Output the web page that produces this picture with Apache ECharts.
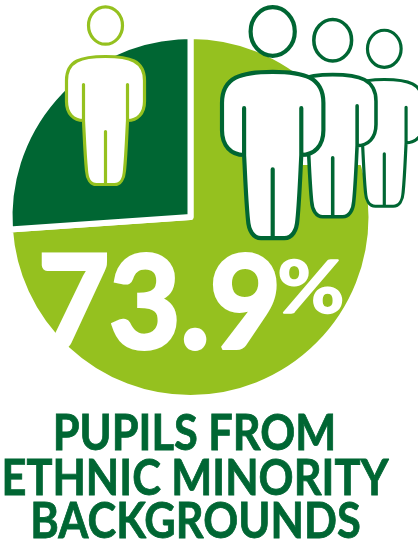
<!DOCTYPE html>
<html>
<head>
<meta charset="utf-8">
<style>html,body{margin:0;padding:0;background:#fff}#c{width:418px;height:544px}</style>
<script src="https://cdn.jsdelivr.net/npm/echarts@6/dist/echarts.min.js"></script>
</head>
<body>
<div id="c"></div>
<script>
const categories = ['Pupils from ethnic minority backgrounds', 'Other pupils'];
const values = [73.9, 26.1];
const titleLines = ['PUPILS FROM', 'ETHNIC MINORITY', 'BACKGROUNDS'];
const LIGHT = '#95C11F', DARK = '#006633';
const FONT = 'Lato';

const PERSON = 'M-17 20a17 18.7 0 1 0 34 0a17 18.7 0 1 0 -34 0Z' +
  'M0 51C24 51 39 55 39 75L39 96C39 108 32 115 22 115L22 115C21 135 20.5 150 19 165C18.5 173 15 179 9 179L-9 179C-15 179 -18.5 173 -19 165C-20.5 150 -21 135 -22 115C-32 115 -39 108 -39 96L-39 75C-39 55 -24 51 0 51Z' +
  'M-22 79L-22 115M22 79L22 115M0 126L0 179';
echarts.graphic.registerShape('person', echarts.graphic.extendPath(PERSON, {}));

function person(cx, top, s, color, z) {
  return {
    type: 'person', z, silent: true, x: cx, y: top, scaleX: s, scaleY: s,
    style: { fill: '#fff', stroke: color, lineWidth: 3.2, lineCap: 'round', lineJoin: 'round' }
  };
}
function text(str, x, y, size, scaleX, color, z, sw) {
  return {
    type: 'text', z, silent: true, x, y, scaleX,
    style: { text: str, fill: color, stroke: color, lineWidth: sw, font: `bold ${size}px ${FONT}`, align: 'center', verticalAlign: 'middle' }
  };
}

const chart = echarts.init(document.getElementById('c'), null, { renderer: 'canvas' });
chart.setOption({
  animation: false,
  backgroundColor: '#fff',
  series: [{
    type: 'pie', center: [190.5, 217], radius: [0, 181], startAngle: 90, clockwise: true,
    silent: true, label: { show: false }, labelLine: { show: false },
    itemStyle: { borderColor: '#fff', borderWidth: 6 },
    data: categories.map((name, i) => ({ name, value: values[i], itemStyle: { color: i === 0 ? LIGHT : DARK } }))
  }],
  graphic: {
    elements: [
      { type: 'rect', z: 10, silent: true, shape: { x: 303, y: 140, width: 67, height: 25 }, style: { fill: '#fff' } },
      person(384.3, 29, 0.99, DARK, 11),
      person(332.7, 18, 1.11, DARK, 12),
      person(272.7, 5.5, 1.3, DARK, 13),
      person(105.5, 5.5, 1, LIGHT, 14),
      text(values[0].toFixed(1), 159.5, 307, 128, 0.96, '#fff', 20, 4),
      text('%', 311, 290, 72, 1.14, '#fff', 20, 1.5),
      text(titleLines[0], 194.5, 434, 49, 0.885, DARK, 20, 0.8),
      text(titleLines[1], 195, 479, 49, 0.885, DARK, 20, 0.8),
      text(titleLines[2], 195.5, 522.5, 49, 0.885, DARK, 20, 0.8)
    ]
  }
});
</script>
</body>
</html>
